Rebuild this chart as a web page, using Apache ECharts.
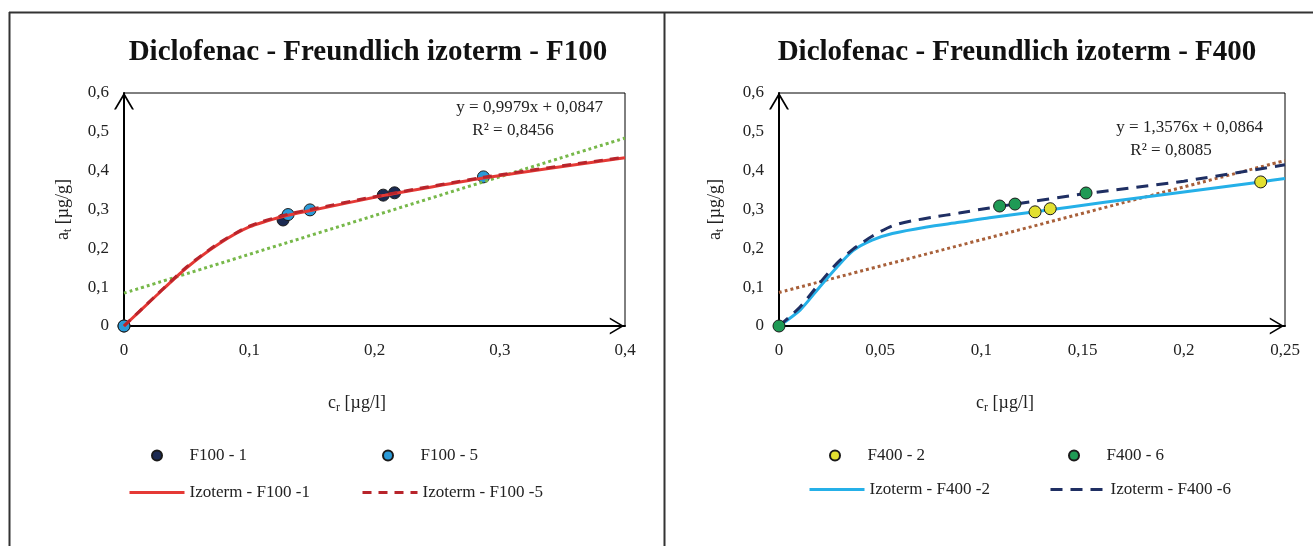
<!DOCTYPE html>
<html>
<head>
<meta charset="utf-8">
<script src="https://cdn.jsdelivr.net/npm/echarts@6/dist/echarts.min.js"></script>
<style>
html,body{margin:0;padding:0;background:#fff;}
#c{width:1313px;height:546px;}
</style>
</head>
<body>
<div id="c"></div>
<script>
// ---- Data ----
// Left chart: F100
const f100_1 = [[0, 0], [0.127, 0.273], [0.207, 0.337], [0.216, 0.343]];
const f100_5 = [[0, 0], [0.131, 0.287], [0.1485, 0.299], [0.287, 0.384]];
const izo_f100_1 = [[0, 0], [0.025, 0.076], [0.05, 0.15], [0.075, 0.21], [0.1, 0.255], [0.127, 0.282], [0.15, 0.298], [0.207, 0.336], [0.216, 0.341], [0.287, 0.381], [0.4, 0.433]];
const izo_f100_5 = [[0, 0], [0.025, 0.077], [0.05, 0.152], [0.075, 0.212], [0.1, 0.257], [0.131, 0.288], [0.1485, 0.300], [0.2, 0.333], [0.287, 0.383], [0.4, 0.435]];
const trend_f100 = [[0, 0.0847], [0.4, 0.484]];
// Right chart: F400
const f400_2 = [[0.1265, 0.294], [0.134, 0.302], [0.238, 0.371]];
const f400_6 = [[0, 0], [0.109, 0.309], [0.1166, 0.314], [0.1517, 0.3425]];
const izo_f400_2 = [[0, 0], [0.0104, 0.041], [0.02, 0.1], [0.0287, 0.152], [0.0366, 0.194], [0.046, 0.221], [0.056, 0.238], [0.073, 0.255], [0.089, 0.267], [0.104, 0.279], [0.1265, 0.294], [0.16, 0.318], [0.2, 0.345], [0.238, 0.371], [0.25, 0.38]];
const izo_f400_6 = [[0, 0], [0.0104, 0.049], [0.02, 0.11], [0.0287, 0.162], [0.0366, 0.198], [0.046, 0.231], [0.056, 0.258], [0.066, 0.271], [0.076, 0.28], [0.089, 0.291], [0.104, 0.304], [0.1166, 0.314], [0.1517, 0.341], [0.2, 0.373], [0.25, 0.415]];
const trend_f400 = [[0, 0.0864], [0.25, 0.426]];

const titles = ['Diclofenac - Freundlich izoterm - F100', 'Diclofenac - Freundlich izoterm - F400'];
const equations = [['y = 0,9979x + 0,0847', 'R² = 0,8456'], ['y = 1,3576x + 0,0864', 'R² = 0,8085']];
const xMax = [0.4, 0.25];
const xInterval = [0.1, 0.05];
const yMax = 0.6;
const yInterval = 0.1;

// ---- Styling ----
const FONT = '"Liberation Serif", "Times New Roman", serif';
const TXT = '#222';
const chevron = 'path://M0,17 L10,0 L20,17 L18,17 L10,3.6 L2,17 Z';
const fmt = v => v === 0 ? '0' : String(parseFloat(v.toFixed(3))).replace('.', ',');

const grids = [
  {left: 124, top: 93, width: 501, height: 233},
  {left: 779, top: 93, width: 506, height: 233}
];

function xAxisDef(i, padRight) {
  return {
    type: 'value', gridIndex: i, min: 0, max: xMax[i], interval: xInterval[i],
    axisLine: {show: true, onZero: false, lineStyle: {color: '#000', width: 2}, symbol: ['none', chevron], symbolSize: [17, 17], symbolOffset: [0, -8]},
    axisTick: {show: false}, splitLine: {show: false},
    axisLabel: {margin: 16, color: TXT, fontFamily: FONT, fontSize: 17, formatter: fmt},
    name: '{n|c}{s|r}{n| [µg/l]}', nameLocation: 'middle', nameGap: 66,
    nameTextStyle: {padding: [0, padRight, 0, 0], rich: {n: {fontFamily: FONT, fontSize: 18, color: TXT}, s: {fontFamily: FONT, fontSize: 12, color: TXT, padding: [10, 0, 0, 0]}}}
  };
}
function yAxisDef(i, gap) {
  return {
    type: 'value', gridIndex: i, min: 0, max: yMax, interval: yInterval,
    axisLine: {show: true, onZero: false, lineStyle: {color: '#000', width: 2}, symbol: ['none', chevron], symbolSize: [20, 17], symbolOffset: [0, -8]},
    axisTick: {show: false}, splitLine: {show: false},
    axisLabel: {margin: 15, color: TXT, fontFamily: FONT, fontSize: 17, formatter: fmt},
    name: '{n|a}{s|t}{n| [µg/g]}', nameLocation: 'middle', nameGap: gap,
    nameTextStyle: {rich: {n: {fontFamily: FONT, fontSize: 18, color: TXT}, s: {fontFamily: FONT, fontSize: 12, color: TXT, padding: [10, 0, 0, 0]}}}
  };
}

function scatter(name, data, color, idx, z) {
  return {name, type: 'scatter', xAxisIndex: idx, yAxisIndex: idx, data, symbol: 'circle', symbolSize: 12, z,
    itemStyle: {color, borderColor: '#1a1a1a', borderWidth: 1, opacity: 1}};
}
function line(name, data, color, type, idx, z, width) {
  return {name, type: 'line', xAxisIndex: idx, yAxisIndex: idx, data, symbol: 'none', smooth: 0.25, z,
    lineStyle: {color, width: width || 3, type}, itemStyle: {color}};
}

function legendPoint(name, left, top) {
  return {data: [{name, icon: 'circle'}], left, top, padding: 0, itemWidth: 55, itemHeight: 10, selectedMode: false,
    itemStyle: {opacity: 1},
    textStyle: {fontFamily: FONT, fontSize: 17, color: TXT}};
}
function legendLine(name, left, top) {
  return {data: [name], left, top, padding: 0, itemWidth: 55, itemHeight: 10, selectedMode: false,
    itemStyle: {color: 'rgba(0,0,0,0)', borderWidth: 0, opacity: 0},
    lineStyle: {width: 3},
    textStyle: {fontFamily: FONT, fontSize: 17, color: TXT}};
}

const frame = [
  {type: 'line', shape: {x1: 9, y1: 12.5, x2: 1313, y2: 12.5}, style: {stroke: '#333', lineWidth: 2}},
  {type: 'line', shape: {x1: 9.5, y1: 12, x2: 9.5, y2: 546}, style: {stroke: '#333', lineWidth: 2}},
  {type: 'line', shape: {x1: 664.5, y1: 12, x2: 664.5, y2: 546}, style: {stroke: '#333', lineWidth: 2}}
];
const texts = [
  {type: 'text', x: 368, y: 53, style: {text: titles[0], font: 'bold 29px ' + FONT, fill: '#111', align: 'center', verticalAlign: 'middle'}},
  {type: 'text', x: 1017, y: 53, style: {text: titles[1], font: 'bold 29px ' + FONT, fill: '#111', align: 'center', verticalAlign: 'middle'}},
  {type: 'text', x: 603, y: 108, z: 10, style: {text: equations[0][0], font: '17px ' + FONT, fill: TXT, align: 'right', verticalAlign: 'middle'}},
  {type: 'text', x: 513, y: 131, z: 10, style: {text: equations[0][1], font: '17px ' + FONT, fill: TXT, align: 'center', verticalAlign: 'middle'}},
  {type: 'text', x: 1263, y: 128, z: 10, style: {text: equations[1][0], font: '17px ' + FONT, fill: TXT, align: 'right', verticalAlign: 'middle'}},
  {type: 'text', x: 1171, y: 151, z: 10, style: {text: equations[1][1], font: '17px ' + FONT, fill: TXT, align: 'center', verticalAlign: 'middle'}}
];

const option = {
  animation: false,
  backgroundColor: '#fff',
  grid: grids.map(g => Object.assign({show: true, borderColor: '#000', borderWidth: 1, backgroundColor: 'transparent'}, g)),
  xAxis: [xAxisDef(0, 35), xAxisDef(1, 54)],
  yAxis: [yAxisDef(0, 50), yAxisDef(1, 53)],
  legend: [
    legendPoint('F100 - 1', 151, 447),
    legendPoint('F100 - 5', 382, 447),
    legendLine('Izoterm - F100 -1', 128, 484),
    legendLine('Izoterm - F100 -5', 361, 484),
    legendPoint('F400 - 2', 829, 447),
    legendPoint('F400 - 6', 1068, 447),
    legendLine('Izoterm - F400 -2', 808, 481),
    legendLine('Izoterm - F400 -6', 1049, 481)
  ],
  graphic: frame.concat(texts),
  series: [
    scatter('F100 - 1', f100_1, '#1b2a52', 0, 2),
    scatter('F100 - 5', f100_5, '#2a9ad8', 0, 2),
    line('Trend F100', trend_f100, '#77b84a', 'dotted', 0, 3, 3),
    line('Izoterm - F100 -1', izo_f100_1, '#e53935', 'solid', 0, 4),
    line('Izoterm - F100 -5', izo_f100_5, '#b8242b', [9, 7], 0, 5),
    line('Trend F400', trend_f400, '#a8603a', 'dotted', 1, 3, 3),
    line('Izoterm - F400 -2', izo_f400_2, '#25b0e8', 'solid', 1, 4),
    line('Izoterm - F400 -6', izo_f400_6, '#1f2f63', [12, 8], 1, 5),
    scatter('F400 - 2', f400_2, '#e2e031', 1, 6),
    scatter('F400 - 6', f400_6, '#1f9a55', 1, 6)
  ]
};

const chart = echarts.init(document.getElementById('c'), null, {renderer: 'canvas'});
chart.setOption(option);
</script>
</body>
</html>
